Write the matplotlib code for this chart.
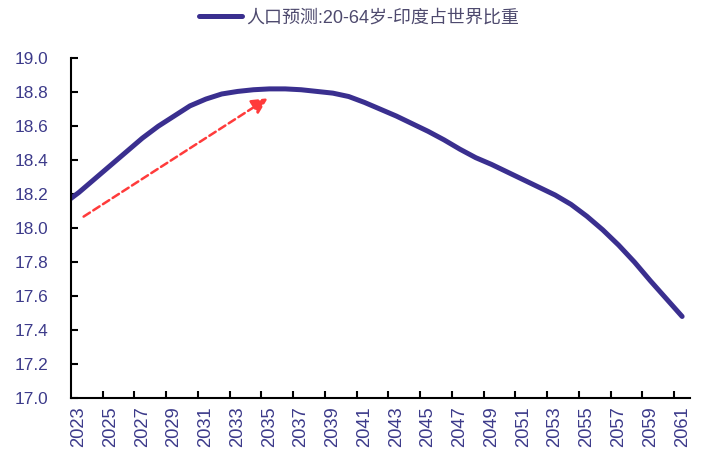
import matplotlib.pyplot as plt
import numpy as np

plt.rcParams['font.family'] = ['Liberation Sans', 'Noto Sans CJK SC', 'DejaVu Sans']

years = np.arange(2022, 2062)
share = [18.14, 18.21, 18.29, 18.37, 18.45, 18.53, 18.60, 18.66, 18.72, 18.76,
         18.79, 18.805, 18.815, 18.82, 18.82, 18.815, 18.805, 18.795, 18.775, 18.74,
         18.70, 18.66, 18.615, 18.57, 18.52, 18.465, 18.415, 18.375, 18.33, 18.285,
         18.24, 18.195, 18.14, 18.07, 17.99, 17.90, 17.80, 17.69, 17.585, 17.48]
label = '人口预测:20-64岁-印度占世界比重'
label_years = np.arange(2023, 2062, 2)

# trend arrow (start, tip)
arrow_from = (2023.3, 18.068)
arrow_to = (2034.9, 18.765)

line_color = '#3a2f8f'
tick_color = '#3c3a8a'

fig = plt.figure(figsize=(7.02, 4.5), dpi=100)
ax = fig.add_axes([0.101, 0.1156, 0.882, 0.7548])

ln, = ax.plot(years, share, color=line_color, lw=3.6, solid_capstyle='round',
              label=label)

ax.annotate('', xy=arrow_to, xytext=arrow_from,
            arrowprops=dict(arrowstyle='-|>', color='#ff3b3b', lw=1.8,
                            linestyle=(0, (3, 1.6)), mutation_scale=24,
                            shrinkA=0, shrinkB=0))

ax.set_xlim(2022.5, 2061.5)
ax.set_ylim(17.0, 19.0)
ax.set_yticks(np.arange(17.0, 19.01, 0.2))
ax.set_yticklabels([f'{v:.1f}' for v in np.arange(17.0, 19.01, 0.2)])
ax.set_xticks(label_years)
ax.set_xticklabels([str(y) for y in label_years], rotation=90)
ax.set_xticks(np.arange(2024.5, 2061, 2), minor=True)

ax.tick_params(axis='y', direction='in', length=5, width=1.5, pad=16,
               labelsize=12.4, labelcolor=tick_color, color='black')
ax.tick_params(axis='x', which='major', length=0, pad=6,
               labelsize=13.2, labelcolor=tick_color)
ax.tick_params(axis='x', which='minor', direction='in', length=5, width=1.5,
               color='black')

for side in ['top', 'right']:
    ax.spines[side].set_visible(False)
for side in ['left', 'bottom']:
    ax.spines[side].set_linewidth(1.5)

fig.legend(handles=[ln], loc='center', bbox_to_anchor=(0.511, 0.96),
           frameon=False, fontsize=13, handlelength=2.4, handletextpad=0.2,
           labelcolor='#4e4a6e')

fig.savefig('out.png', dpi=100)
